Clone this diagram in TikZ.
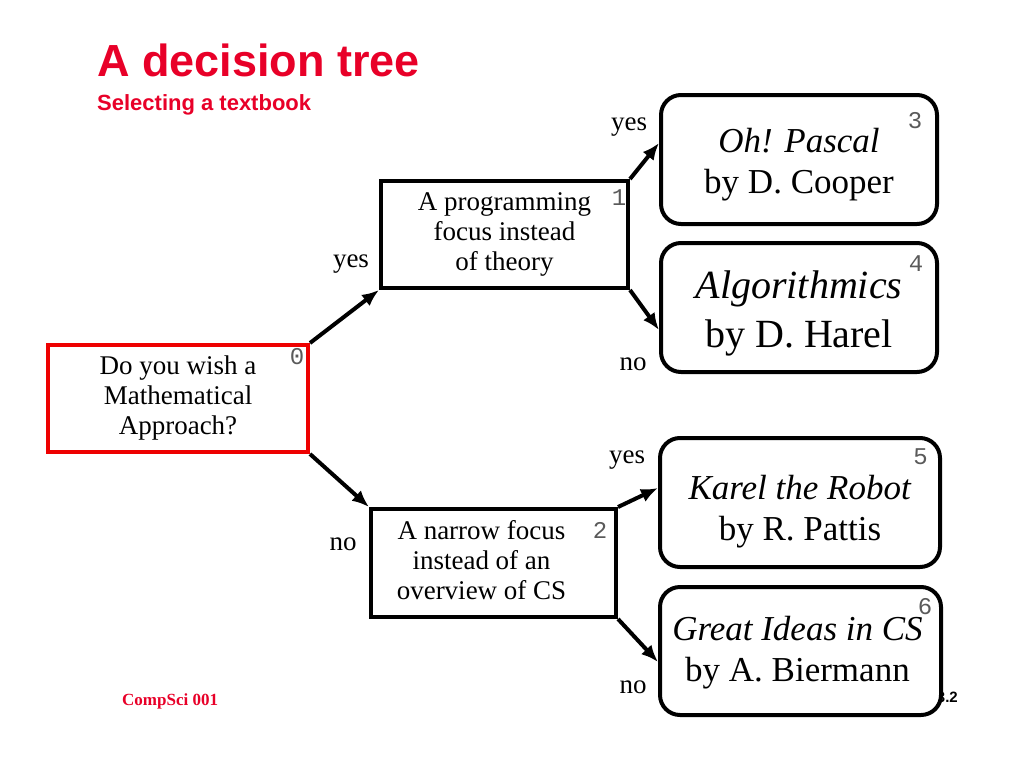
\documentclass[tikz,border=0pt]{standalone}
\usepackage{fontspec}
\setmainfont{Liberation Serif}
\newfontfamily\headfont{Liberation Sans}
\newfontfamily\numfont{Liberation Mono}
\usetikzlibrary{arrows.meta,positioning,calc}
\definecolor{headred}{RGB}{232,0,40}
\definecolor{boxred}{RGB}{238,0,0}
\definecolor{numgray}{RGB}{90,90,90}
% lines of a box, moved right by #1 and up by #2
\newcommand{\boxlines}[3]{\raisebox{#2}[\height][\depth]{\hspace*{#1}\begin{tabular}{@{}c@{}}#3\end{tabular}\hspace*{-#1}}}
\begin{document}
\begin{tikzpicture}[x=1pt, y=-1pt, every node/.style={font=\fontsize{27}{30}\selectfont},
  qbox/.style={draw, line width=4pt, fill=white, align=center, inner sep=0pt},
  leafbox/.style={qbox, rounded corners=20pt, minimum height=129pt},
  num/.style={font=\numfont\fontsize{24}{24}\selectfont, text=numgray, inner sep=0pt},
  lbl/.style={anchor=base, inner sep=0pt},
  arr/.style={line width=4pt, -{Latex[length=17pt,width=14pt]}}]
\useasboundingbox (0,0) rectangle (1024,768);
% headings
\node[anchor=base west, inner sep=0pt, text=headred, font=\headfont\bfseries\fontsize{45}{54}\selectfont] (title) at (97,77) {A decision tree};
\node[anchor=base west, inner sep=0pt, text=headred, font=\headfont\bfseries\fontsize{22}{26}\selectfont] (subtitle) at (97,110) {Selecting a textbook};
\node[anchor=base west, inner sep=0pt, text=headred, font=\bfseries\fontsize{17}{20}\selectfont] (course) at (122,705) {CompSci 001};
\node[anchor=base east, inner sep=0pt, font=\headfont\bfseries\fontsize{15}{18}\selectfont] (page) at (958,702) {3.2};
% questions
\node[qbox, draw=boxred, minimum width=260pt, minimum height=107pt] (q0) at (178,398.5) {Do you wish a\\Mathematical\\Approach?};
\node[qbox, minimum width=247pt, minimum height=107pt] (q1) at (504.5,234.5) {A programming\\focus instead\\of theory};
\node[qbox, minimum width=245pt, minimum height=108pt] (q2) at (493.5,563) {\boxlines{-12pt}{0pt}{A narrow focus\\instead of an\\overview of CS}};
% books
\node[leafbox, minimum width=276pt, font=\fontsize{35}{41}\selectfont] (b3) at (799,159.5) {\boxlines{0pt}{-5pt}{\textit{Oh! Pascal}\\by D. Cooper}};
\node[leafbox, minimum width=276pt, font=\fontsize{40}{49}\selectfont] (b4) at (799,307.5) {\boxlines{0pt}{-6pt}{\textit{Algorithmics}\\by D. Harel}};
\node[leafbox, minimum width=280pt, font=\fontsize{35}{41}\selectfont] (b5) at (800,502.5) {\boxlines{0pt}{-9pt}{\textit{Karel the Robot}\\by R. Pattis}};
\node[leafbox, minimum width=281pt, minimum height=128pt, font=\fontsize{35}{41}\selectfont] (b6) at (800.5,651) {\boxlines{-3pt}{-2pt}{\textit{Great Ideas in CS}\\by A. Biermann}};
% numbers
\node[num] (k0) at ([shift={(-13,14)}]q0.north east) {0};
\node[num] (k1) at ([shift={(-11,18.5)}]q1.north east) {1};
\node[num] (k2) at ([shift={(-18,23)}]q2.north east) {2};
\node[num] (k3) at ([shift={(-24,27.5)}]b3.north east) {3};
\node[num] (k4) at ([shift={(-23,23)}]b4.north east) {4};
\node[num] (k5) at ([shift={(-21.5,21)}]b5.north east) {5};
\node[num] (k6) at ([shift={(-18,22)}]b6.north east) {6};
% answers
\node[lbl] (a1) at (351,267) {yes};
\node[lbl] (a2) at (343,550) {no};
\node[lbl] (a3) at (629,130) {yes};
\node[lbl] (a4) at (633,370) {no};
\node[lbl] (a5) at (627,463) {yes};
\node[lbl] (a6) at (633,693) {no};
% branches
\draw[arr] (q0.north east) -- (q1.south west);
\draw[arr] (q0.south east) -- (q2.north west);
\draw[arr] (q1.north east) -- ([yshift=16.5pt]b3.west);
\draw[arr] (q1.south east) -- ([yshift=-22.5pt]b4.west);
\draw[arr] (q2.north east) -- ([yshift=14.5pt]b5.west);
\draw[arr] (q2.south east) -- ([yshift=-11pt]b6.west);
\end{tikzpicture}
\end{document}
